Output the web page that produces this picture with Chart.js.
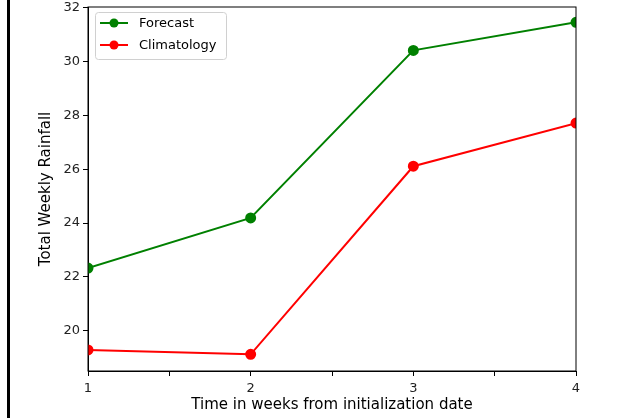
<!DOCTYPE html>
<html>
<head>
<meta charset="utf-8">
<script src="https://cdn.jsdelivr.net/npm/chart.js@4.4.0/dist/chart.umd.min.js"></script>
<style>
  html, body { margin: 0; padding: 0; background: #fff; }
  #wrap { position: relative; width: 635px; height: 418px; }
  #edge { position: absolute; left: 7px; top: 0; width: 3px; height: 418px; background: #000; }
</style>
</head>
<body>
<div id="wrap">
  <canvas id="rainChart" width="635" height="418"></canvas>
  <div id="edge"></div>
</div>
<script>
const weeks = [1, 2, 3, 4];
const forecast = [22.33, 24.19, 30.41, 31.45];
const climatology = [19.29, 19.13, 26.11, 27.71];

const FONT = 'DejaVu Sans';

// box round the plot area (matplotlib style spines)
const frame = {
    id: 'frame',
    afterDatasetsDraw(chart) {
        const a = chart.chartArea, c = chart.ctx;
        c.save();
        c.strokeStyle = '#000';
        c.lineWidth = 1;
        c.strokeRect(a.left, a.top, a.right - a.left, a.bottom - a.top);
        c.restore();
    }
};

// legend in the upper-left corner of the axes
const innerLegend = {
    id: 'innerLegend',
    afterDraw(chart) {
        const c = chart.ctx, a = chart.chartArea;
        const x = a.left + 7, y = a.top + 5, w = 131, h = 47;
        c.save();
        c.fillStyle = 'rgba(255,255,255,0.8)';
        c.strokeStyle = '#d0d0d0';
        c.lineWidth = 1;
        c.beginPath();
        c.roundRect(x + 0.5, y + 0.5, w, h, 3);
        c.fill();
        c.stroke();
        c.font = '13px "' + FONT + '"';
        c.textBaseline = 'middle';
        chart.data.datasets.forEach((ds, i) => {
            const cy = y + 11 + i * 22;
            c.strokeStyle = ds.borderColor;
            c.lineWidth = 2;
            c.beginPath();
            c.moveTo(x + 5, cy);
            c.lineTo(x + 33, cy);
            c.stroke();
            c.fillStyle = ds.borderColor;
            c.beginPath();
            c.arc(x + 19, cy, 4.5, 0, Math.PI * 2);
            c.fill();
            c.fillStyle = '#000';
            c.fillText(ds.label, x + 44, cy + 1);
        });
        c.restore();
    }
};

new Chart(document.getElementById('rainChart').getContext('2d'), {
    type: 'line',
    data: {
        datasets: [
            {
                label: 'Forecast',
                data: weeks.map((w, i) => ({ x: w, y: forecast[i] })),
                borderColor: '#008000',
                backgroundColor: '#008000',
                borderWidth: 2,
                pointRadius: 4.5,
                pointHoverRadius: 4.5,
                tension: 0,
                clip: 0
            },
            {
                label: 'Climatology',
                data: weeks.map((w, i) => ({ x: w, y: climatology[i] })),
                borderColor: '#ff0000',
                backgroundColor: '#ff0000',
                borderWidth: 2,
                pointRadius: 4.5,
                pointHoverRadius: 4.5,
                tension: 0,
                clip: 0
            }
        ]
    },
    options: {
        responsive: false,
        animation: false,
        layout: { padding: { left: 37, top: 7, right: 59, bottom: 4 } },
        plugins: {
            legend: { display: false },
            tooltip: { enabled: false }
        },
        scales: {
            x: {
                type: 'linear',
                min: 1,
                max: 4,
                afterFit(scale) {
                    scale.height = 43;
                    scale.paddingLeft = 0;
                    scale.paddingRight = 0;
                },
                grid: { drawOnChartArea: false, drawTicks: true, tickLength: 5, color: '#000' },
                border: { display: true, color: '#000' },
                ticks: {
                    stepSize: 0.5,
                    color: '#222',
                    font: { family: FONT, size: 13 },
                    padding: 5,
                    maxRotation: 0,
                    autoSkip: false,
                    callback: v => Number.isInteger(v) ? String(v) : ''
                },
                title: {
                    display: true,
                    text: 'Time in weeks from initialization date',
                    color: '#000',
                    font: { family: FONT, size: 15 },
                    padding: { top: 0, bottom: 0 }
                }
            },
            y: {
                min: 18.51,
                max: 32.02,
                afterFit(scale) {
                    scale.width = 51;
                    scale.paddingTop = 0;
                    scale.paddingBottom = 0;
                },
                grid: { drawOnChartArea: false, drawTicks: true, tickLength: 5, color: '#000' },
                border: { display: true, color: '#000' },
                ticks: {
                    stepSize: 2,
                    color: '#222',
                    font: { family: FONT, size: 13 },
                    padding: 3,
                    callback: v => Number.isInteger(v) && v % 2 === 0 ? String(v) : ''
                },
                afterBuildTicks(scale) {
                    scale.ticks = [20, 22, 24, 26, 28, 30, 32].map(v => ({ value: v }));
                },
                title: {
                    display: true,
                    text: 'Total Weekly Rainfall',
                    color: '#000',
                    font: { family: FONT, size: 15 },
                    padding: { top: 0, bottom: 0 }
                }
            }
        }
    },
    plugins: [frame, innerLegend]
});
</script>
</body>
</html>
